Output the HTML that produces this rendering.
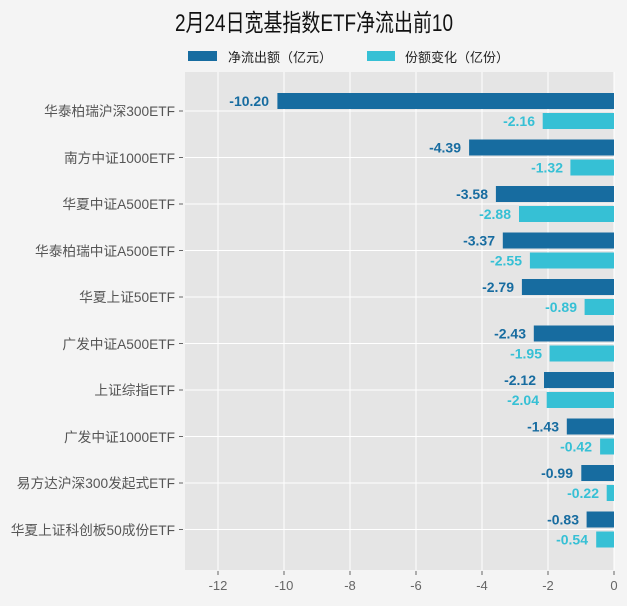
<!DOCTYPE html>
<html><head><meta charset="utf-8"><style>
body{margin:0;background:#f4f4f4}
svg{display:block;font-family:"Liberation Sans","Noto Sans CJK SC",sans-serif}
</style></head><body>
<svg width="627" height="606" viewBox="0 0 627 606" xmlns="http://www.w3.org/2000/svg">
<rect width="627" height="606" fill="#f4f4f4"/>
<text x="175" y="31" font-size="24" fill="#111" textLength="278" lengthAdjust="spacingAndGlyphs">2月24日宽基指数ETF净流出前10</text>
<rect x="188" y="51" width="29" height="10" fill="#176ca0"/>
<text x="228" y="62" font-size="13" fill="#222">净流出额（亿元）</text>
<rect x="367" y="51" width="28" height="10" fill="#36c0d5"/>
<text x="405" y="62" font-size="13" fill="#222">份额变化（亿份）</text>
<rect x="185" y="72" width="429" height="498" fill="#e5e5e5"/>
<g stroke="#fff" stroke-width="1">
<line x1="218" y1="72" x2="218" y2="570"/><line x1="284" y1="72" x2="284" y2="570"/><line x1="350" y1="72" x2="350" y2="570"/><line x1="416" y1="72" x2="416" y2="570"/><line x1="482" y1="72" x2="482" y2="570"/><line x1="548" y1="72" x2="548" y2="570"/><line x1="614" y1="72" x2="614" y2="570"/>
</g>
<g font-size="13" fill="#666" text-anchor="middle">
<text x="218" y="590">-12</text><text x="284" y="590">-10</text><text x="350" y="590">-8</text><text x="416" y="590">-6</text><text x="482" y="590">-4</text><text x="548" y="590">-2</text><text x="614" y="590">0</text>
</g>
<g stroke="#666"><line x1="218" y1="571" x2="218" y2="575"/><line x1="284" y1="571" x2="284" y2="575"/><line x1="350" y1="571" x2="350" y2="575"/><line x1="416" y1="571" x2="416" y2="575"/><line x1="482" y1="571" x2="482" y2="575"/><line x1="548" y1="571" x2="548" y2="575"/><line x1="614" y1="571" x2="614" y2="575"/></g>
<g font-size="13.7" fill="#555" text-anchor="end">
<text x="175" y="116">华泰柏瑞沪深300ETF</text>
<text x="175" y="163">南方中证1000ETF</text>
<text x="175" y="209">华夏中证A500ETF</text>
<text x="175" y="256">华泰柏瑞中证A500ETF</text>
<text x="175" y="302">华夏上证50ETF</text>
<text x="175" y="349">广发中证A500ETF</text>
<text x="175" y="395">上证综指ETF</text>
<text x="175" y="442">广发中证1000ETF</text>
<text x="175" y="488">易方达沪深300发起式ETF</text>
<text x="175" y="535">华夏上证科创板50成份ETF</text>
</g>
<g stroke="#fff">
<line x1="185" y1="111" x2="614" y2="111"/><line x1="185" y1="157.5" x2="614" y2="157.5"/><line x1="185" y1="204" x2="614" y2="204"/><line x1="185" y1="250.5" x2="614" y2="250.5"/><line x1="185" y1="297" x2="614" y2="297"/><line x1="185" y1="343.5" x2="614" y2="343.5"/><line x1="185" y1="390" x2="614" y2="390"/><line x1="185" y1="436.5" x2="614" y2="436.5"/><line x1="185" y1="483" x2="614" y2="483"/><line x1="185" y1="529.5" x2="614" y2="529.5"/>
</g>
<g stroke="#666"><line x1="179" y1="111" x2="183" y2="111"/><line x1="179" y1="157.5" x2="183" y2="157.5"/><line x1="179" y1="204" x2="183" y2="204"/><line x1="179" y1="250.5" x2="183" y2="250.5"/><line x1="179" y1="297" x2="183" y2="297"/><line x1="179" y1="343.5" x2="183" y2="343.5"/><line x1="179" y1="390" x2="183" y2="390"/><line x1="179" y1="436.5" x2="183" y2="436.5"/><line x1="179" y1="483" x2="183" y2="483"/><line x1="179" y1="529.5" x2="183" y2="529.5"/></g>
<g font-size="14" font-weight="bold" text-anchor="end">
<rect x="277.4" y="93" width="336.6" height="16" fill="#176ca0"/><text x="269" y="106" fill="#176ca0">-10.20</text>
<rect x="542.7" y="113" width="71.3" height="16" fill="#36c0d5"/><text x="535" y="126" fill="#36c0d5">-2.16</text>
<rect x="469.1" y="139.5" width="144.9" height="16" fill="#176ca0"/><text x="461" y="152.5" fill="#176ca0">-4.39</text>
<rect x="570.4" y="159.5" width="43.6" height="16" fill="#36c0d5"/><text x="563" y="172.5" fill="#36c0d5">-1.32</text>
<rect x="495.9" y="186" width="118.1" height="16" fill="#176ca0"/><text x="488" y="199" fill="#176ca0">-3.58</text>
<rect x="519" y="206" width="95" height="16" fill="#36c0d5"/><text x="511" y="219" fill="#36c0d5">-2.88</text>
<rect x="502.8" y="232.5" width="111.2" height="16" fill="#176ca0"/><text x="495" y="245.5" fill="#176ca0">-3.37</text>
<rect x="529.9" y="252.5" width="84.1" height="16" fill="#36c0d5"/><text x="522" y="265.5" fill="#36c0d5">-2.55</text>
<rect x="521.9" y="279" width="92.1" height="16" fill="#176ca0"/><text x="514" y="292" fill="#176ca0">-2.79</text>
<rect x="584.6" y="299" width="29.4" height="16" fill="#36c0d5"/><text x="577" y="312" fill="#36c0d5">-0.89</text>
<rect x="533.8" y="325.5" width="80.2" height="16" fill="#176ca0"/><text x="526" y="338.5" fill="#176ca0">-2.43</text>
<rect x="549.6" y="345.5" width="64.4" height="16" fill="#36c0d5"/><text x="542" y="358.5" fill="#36c0d5">-1.95</text>
<rect x="544" y="372" width="70" height="16" fill="#176ca0"/><text x="536" y="385" fill="#176ca0">-2.12</text>
<rect x="546.7" y="392" width="67.3" height="16" fill="#36c0d5"/><text x="539" y="405" fill="#36c0d5">-2.04</text>
<rect x="566.8" y="418.5" width="47.2" height="16" fill="#176ca0"/><text x="559" y="431.5" fill="#176ca0">-1.43</text>
<rect x="600.1" y="438.5" width="13.9" height="16" fill="#36c0d5"/><text x="592" y="451.5" fill="#36c0d5">-0.42</text>
<rect x="581.3" y="465" width="32.7" height="16" fill="#176ca0"/><text x="573" y="478" fill="#176ca0">-0.99</text>
<rect x="606.7" y="485" width="7.3" height="16" fill="#36c0d5"/><text x="599" y="498" fill="#36c0d5">-0.22</text>
<rect x="586.6" y="511.5" width="27.4" height="16" fill="#176ca0"/><text x="579" y="524.5" fill="#176ca0">-0.83</text>
<rect x="596.2" y="531.5" width="17.8" height="16" fill="#36c0d5"/><text x="588" y="544.5" fill="#36c0d5">-0.54</text>
</g>
</svg>
</body></html>
